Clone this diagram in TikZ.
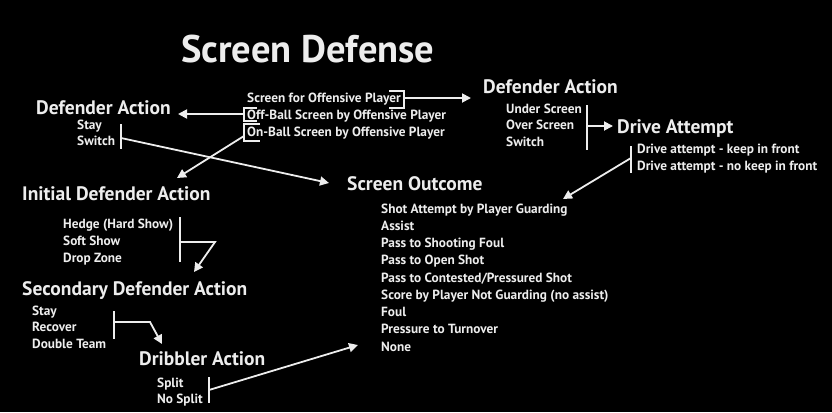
\documentclass[tikz,border=0pt]{standalone}
\usepackage{fontspec}
\setmainfont{PT Sans}
\usetikzlibrary{arrows.meta,calc,positioning}

\begin{document}
\begin{tikzpicture}[x=1pt,y=-1pt,
  title/.style={anchor=base west, inner sep=0pt, text=white!93!black, font=\bfseries\fontsize{38.5}{42}\selectfont},
  head/.style={anchor=base west, inner sep=0pt, text=white!93!black, font=\bfseries\fontsize{19.5}{23}\selectfont},
  item/.style={anchor=base west, inner sep=0pt, text=white!93!black, font=\bfseries\fontsize{13.3}{16}\selectfont},
  wire/.style={white!93!black, line width=1.8pt},
  arr/.style={wire, -{Triangle[length=9pt,width=9pt]}}]
\fill[black] (0,0) rectangle (832,412);

% Title and headings
\node[title] (ttl) at (181,63) {Screen Defense};
\node[head] (defL) at (36,114) {Defender Action};
\node[head] (defR) at (483,93) {Defender Action};
\node[head] (drv) at (617,133) {Drive Attempt};
\node[head] (out) at (347,190) {Screen Outcome};
\node[head] (ini) at (22,200) {Initial Defender Action};
\node[head] (sec) at (22,295) {Secondary Defender Action};
\node[head] (dri) at (139,365) {Dribbler Action};

% Screen types
\node[item] (scr1) at (247,102) {Screen for Offensive Player};
\node[item] (scr2) at (247,119) {Off-Ball Screen by Offensive Player};
\node[item] (scr3) at (247,136) {On-Ball Screen by Offensive Player};

% Lists of options
\foreach \t [count=\i] in {Stay,Switch}
  \node[item] (defL\i) at (77,{113+16*\i}) {\t};
\foreach \t [count=\i] in {Under Screen,Over Screen,Switch}
  \node[item] (defR\i) at (506,{96.5+16.5*\i}) {\t};
\foreach \t [count=\i] in {Drive attempt - keep in front,Drive attempt - no keep in front}
  \node[item] (drv\i) at (637,{135.5+17.5*\i}) {\t};
\foreach \t [count=\i] in {Shot Attempt by Player Guarding,Assist,Pass to Shooting Foul,Pass to Open Shot,Pass to Contested/Pressured Shot,Score by Player Not Guarding (no assist),Foul,Pressure to Turnover,None}
  \node[item] (out\i) at (381,{195.75+17.25*\i}) {\t};
\foreach \t [count=\i] in {Hedge (Hard Show),Soft Show,Drop Zone}
  \node[item] (ini\i) at (63,{211+17*\i}) {\t};
\foreach \t [count=\i] in {Stay,Recover,Double Team}
  \node[item] (sec\i) at (32,{298.5+16.5*\i}) {\t};
\foreach \t [count=\i] in {Split,No Split}
  \node[item] (dri\i) at (157,{371+16*\i}) {\t};

% Brackets on the screen types
\draw[wire] (389,91) -- (404,91) -- (404,108) -- (389,108);
\draw[wire] (257,108) -- (244,108) -- (244,121) -- (257,121);
\draw[wire] (260,124) -- (244,124) -- (244,141) -- (260,141);
\coordinate (b1) at (404,98);
\coordinate (b2) at (244,114);
\coordinate (b3) at (244,136);

% Bars beside the lists
\draw[wire] (121,124) -- (121,149);
\draw[wire] (587,105) -- (587,150);
\draw[wire] (631,146) -- (631,173);
\draw[wire] (180,217) -- (180,262);
\draw[wire] (114,311) -- (114,339);
\draw[wire] (209,377) -- (209,403);
\coordinate (bDefL) at (121,138);
\coordinate (bDefR) at (587,126);
\coordinate (bDrv) at (631,158);
\coordinate (bIni) at (180,242);
\coordinate (bSec) at (114,322);
\coordinate (bDri) at (209,390);

% Arrow tips
\coordinate (tDefR) at (471,98);
\coordinate (tDefL) at (178,114);
\coordinate (tIni) at (177,178);
\coordinate (tOut) at (329,183);
\coordinate (tDrv) at (613,126);
\coordinate (tShot) at (563,199);
\coordinate (tSec) at (194,272);
\coordinate (tDri) at (162,344);
\coordinate (tNone) at (358,345);

% Connectors
\draw[arr] (b1) -- (tDefR);
\draw[arr] (b2) -- (tDefL);
\draw[arr] (b3) -- (tIni);
\draw[arr] (bDefL) -- (tOut);
\draw[arr] (bDefR) -- (tDrv);
\draw[arr] (bDrv) -- (tShot);
\draw[arr] (bIni) -- ++(35,0) -- (tSec);
\draw[arr] (bSec) -- ++(36,0) -- (tDri);
\draw[arr] (bDri) -- (tNone);

\end{tikzpicture}
\end{document}
